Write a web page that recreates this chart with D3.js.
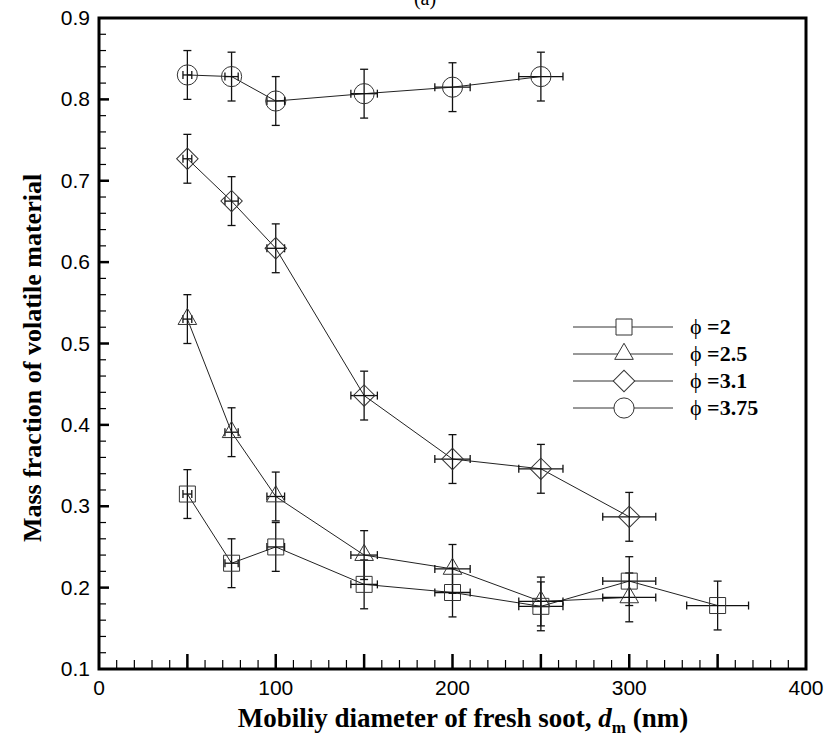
<!DOCTYPE html>
<html><head><meta charset="utf-8">
<script src="https://cdn.jsdelivr.net/npm/d3@7"></script>
<style>body{margin:0;background:#fff}svg{display:block}</style>
</head><body>
<script>
// Data
const diam2 = [50, 75, 100, 150, 200, 250, 300, 350];
const phi2 = [0.315, 0.230, 0.250, 0.204, 0.194, 0.177, 0.208, 0.178];
const diam25 = [50, 75, 100, 150, 200, 250, 300];
const phi25 = [0.530, 0.391, 0.312, 0.240, 0.223, 0.183, 0.188];
const diam31 = [50, 75, 100, 150, 200, 250, 300];
const phi31 = [0.727, 0.675, 0.617, 0.436, 0.358, 0.346, 0.287];
const diam375 = [50, 75, 100, 150, 200, 250];
const phi375 = [0.830, 0.828, 0.798, 0.807, 0.815, 0.828];
const yErr = 0.03;          // vertical error half-width
const xErrFrac = 0.05;      // horizontal error as fraction of diameter
const legendLabels = ["=2", "=2.5", "=3.1", "=3.75"];
const xTickLabels = [0, 100, 200, 300, 400];
const yTickLabels = [0.1, 0.2, 0.3, 0.4, 0.5, 0.6, 0.7, 0.8, 0.9];

const W = 829, H = 742;
const L = 99, R = 806, T = 18, B = 669;
const svg = d3.select("body").append("svg").attr("width", W).attr("height", H);
const x = d3.scaleLinear().domain([0, 400]).range([L, R]);
const y = d3.scaleLinear().domain([0.1, 0.9]).range([B, T]);

const series = [
  {d: diam2, v: phi2, sym: d3.symbolSquare, size: 256, rot: 0},
  {d: diam25, v: phi25, sym: d3.symbolTriangle, size: 150, rot: 0},
  {d: diam31, v: phi31, sym: d3.symbolSquare, size: 230, rot: 45},
  {d: diam375, v: phi375, sym: d3.symbolCircle, size: 320, rot: 0}
];

const g = svg.append("g");
// lines
const line = d3.line().x(p => x(p[0])).y(p => y(p[1]));
series.forEach(s => {
  const pts = s.d.map((d, i) => [d, s.v[i]]);
  g.append("path").attr("d", line(pts)).attr("fill", "none")
    .attr("stroke", "#222").attr("stroke-width", 1);
});
// error bars
const cap = 4;
series.forEach(s => {
  s.d.forEach((d, i) => {
    const cx = x(d), cy = y(s.v[i]);
    const y1 = y(s.v[i] + yErr), y2 = y(s.v[i] - yErr);
    const x1 = x(d - d * xErrFrac), x2 = x(d + d * xErrFrac);
    const e = g.append("g").attr("stroke", "#111").attr("stroke-width", 1.3);
    e.append("line").attr("x1", cx).attr("x2", cx).attr("y1", y1).attr("y2", y2);
    e.append("line").attr("x1", cx - cap).attr("x2", cx + cap).attr("y1", y1).attr("y2", y1);
    e.append("line").attr("x1", cx - cap).attr("x2", cx + cap).attr("y1", y2).attr("y2", y2);
    e.append("line").attr("x1", x1).attr("x2", x2).attr("y1", cy).attr("y2", cy);
    e.append("line").attr("x1", x1).attr("x2", x1).attr("y1", cy - cap).attr("y2", cy + cap);
    e.append("line").attr("x1", x2).attr("x2", x2).attr("y1", cy - cap).attr("y2", cy + cap);
  });
});
// markers
series.forEach(s => {
  const sym = d3.symbol().type(s.sym).size(s.size);
  s.d.forEach((d, i) => {
    g.append("path").attr("d", sym())
      .attr("transform", `translate(${x(d)},${y(s.v[i])}) rotate(${s.rot})`)
      .attr("fill", "none").attr("stroke", "#333").attr("stroke-width", 1);
  });
});

// axes frame
const ax = svg.append("g").attr("stroke", "#000");
ax.append("rect").attr("x", L).attr("y", T).attr("width", R - L).attr("height", B - T)
  .attr("fill", "none").attr("stroke-width", 3);
// x ticks
d3.range(10, 400, 10).forEach(v => {
  const major = v % 50 === 0;
  ax.append("line").attr("x1", x(v)).attr("x2", x(v)).attr("y1", B).attr("y2", B - (major ? 15 : 9))
    .attr("stroke-width", major ? 2.5 : 1.2);
});
// y ticks
d3.range(0.12, 0.9, 0.02).forEach(v => {
  const major = Math.abs(v * 10 - Math.round(v * 10)) < 1e-6;
  ax.append("line").attr("x1", L).attr("x2", L + (major ? 10 : 7)).attr("y1", y(v)).attr("y2", y(v))
    .attr("stroke-width", major ? 2.5 : 1.2);
});
// tick labels
const tf = "'Liberation Sans', Arial, sans-serif";
xTickLabels.forEach(v => {
  svg.append("text").attr("x", x(v)).attr("y", B + 26).attr("text-anchor", "middle")
    .attr("font-family", tf).attr("font-size", 21).text(v);
});
yTickLabels.forEach(v => {
  svg.append("text").attr("x", L - 9).attr("y", y(v) + 7).attr("text-anchor", "end")
    .attr("font-family", tf).attr("font-size", 21).text(d3.format(".1f")(v));
});

// axis titles
const sf = "'Liberation Serif', 'Times New Roman', serif";
const xt = svg.append("text").attr("x", 463).attr("y", 727).attr("text-anchor", "middle")
  .attr("font-family", sf).attr("font-size", 27).attr("font-weight", "bold");
xt.append("tspan").text("Mobiliy diameter of fresh soot, ");
xt.append("tspan").attr("font-style", "italic").text("d");
xt.append("tspan").attr("font-size", 17).attr("dy", 6).text("m");
xt.append("tspan").attr("dy", -6).text(" (nm)");

svg.append("text").attr("transform", "translate(41,358) rotate(-90)").attr("text-anchor", "middle")
  .attr("font-family", sf).attr("font-size", 26).attr("font-weight", "bold")
  .text("Mass fraction of volatile material");

// partial title
svg.append("text").attr("x", 425).attr("y", 5).attr("text-anchor", "middle")
  .attr("font-family", sf).attr("font-size", 20).text("(a)");

// legend
const lg = svg.append("g");
series.forEach((s, i) => {
  const ly = 327 + i * 27;
  lg.append("line").attr("x1", 573).attr("x2", 673).attr("y1", ly).attr("y2", ly)
    .attr("stroke", "#333").attr("stroke-width", 1);
  lg.append("path").attr("d", d3.symbol().type(s.sym).size(s.size)())
    .attr("transform", `translate(624,${ly}) rotate(${s.rot})`).attr("fill", "#fff")
    .attr("stroke", "#333").attr("stroke-width", 1);
  const t = lg.append("text").attr("x", 690).attr("y", ly + 7)
    .attr("font-family", sf).attr("font-size", 22).attr("font-weight", "bold");
  t.append("tspan").attr("font-weight", "normal").text("ϕ");
  t.append("tspan").text(" " + legendLabels[i]);
});
</script>
</body></html>
